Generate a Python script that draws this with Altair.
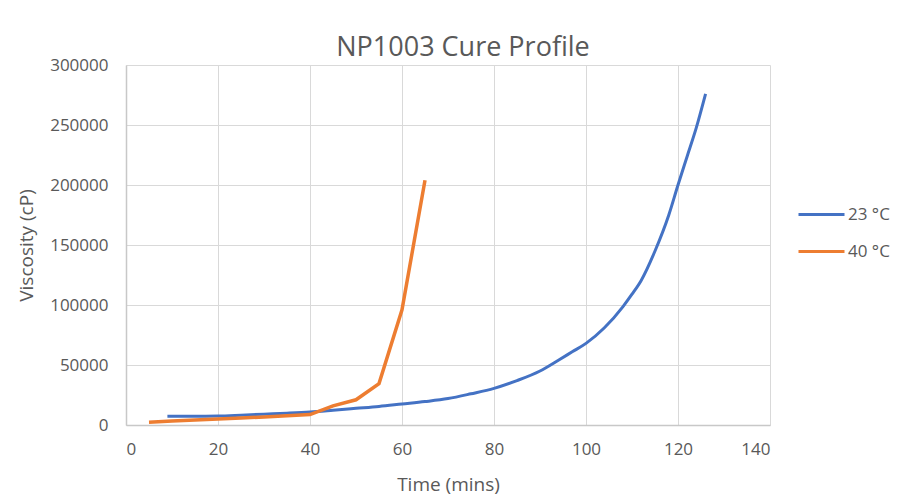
import altair as alt
import pandas as pd

# 23 °C series
t23 = [9, 15, 20, 25, 30, 35, 40, 45, 50, 55, 60, 65, 70, 75, 80, 85, 90, 94, 97,
       100, 104, 108, 110, 112, 115, 118, 120, 122, 124, 126]
v23 = [7200, 7300, 7500, 8200, 9000, 9800, 10800, 12300, 13900, 15500, 17500, 19500,
       22000, 26000, 30500, 37000, 45000, 54000, 61000, 68000, 81000, 98500, 109000,
       120500, 145000, 175000, 200000, 224000, 248000, 276000]

# 40 °C series
t40 = [5, 10, 15, 20, 25, 30, 35, 40, 45, 50, 55, 60, 65]
v40 = [2300, 3300, 4200, 5000, 5800, 6700, 7700, 8700, 16000, 21000, 34500, 96000, 204000]

series_names = ["23 °C", "40 °C"]
series_colors = ["#4472C4", "#ED7D31"]

df23 = pd.DataFrame({"t": t23, "v": v23, "s": series_names[0]})
df40 = pd.DataFrame({"t": t40, "v": v40, "s": series_names[1]})

x_ticks = [0, 20, 40, 60, 80, 100, 120, 140]
y_ticks = [0, 50000, 100000, 150000, 200000, 250000, 300000]

FONT = "Open Sans"
GRAY = "#595959"

xenc = alt.X("t:Q", scale=alt.Scale(domain=[0, 140], nice=False),
             axis=alt.Axis(values=x_ticks, title="Time (mins)", titleX=322, titleY=59,
                           titleBaseline="middle"))
yenc = alt.Y("v:Q", scale=alt.Scale(domain=[0, 300000], nice=False),
             axis=alt.Axis(values=y_ticks, title="Viscosity (cP)", titleX=-100, titleY=180,
                           titleAngle=-90, titleBaseline="middle", format="d"))
color = alt.Color("s:N", scale=alt.Scale(domain=series_names, range=series_colors),
                  legend=alt.Legend(title=None, orient="none", legendX=671, legendY=125,
                                    symbolType="stroke", symbolSize=2116,
                                    symbolStrokeWidth=3, labelFontSize=17,
                                    labelFont=FONT, labelColor=GRAY, labelOffset=2,
                                    rowPadding=4, padding=0))

blue = alt.Chart(df23).mark_line(strokeWidth=3, interpolate="monotone").encode(
    x=xenc, y=yenc, color=color)
orange = alt.Chart(df40).mark_line(strokeWidth=3.5).encode(
    x=xenc, y=yenc, color=color)

chart = alt.layer(blue, orange).properties(
    width=644, height=360,
    autosize=alt.AutoSizeParams(type="none"),
    padding={"left": 118, "top": 57, "right": 130, "bottom": 70},
    title=alt.TitleParams("NP1003 Cure Profile", font=FONT, fontSize=27,
                          fontWeight="normal", color=GRAY, anchor="middle",
                          dx=15, dy=37, offset=10, baseline="alphabetic"),
).configure_view(stroke=None).configure_axis(
    grid=True, gridColor="#D9D9D9", gridWidth=1,
    domainColor="#C8C8C8", domainWidth=1.5, ticks=False,
    labelFont=FONT, labelFontSize=17, labelColor=GRAY, labelPadding=18,
    titleFont=FONT, titleFontSize=19, titleColor=GRAY, titleFontWeight="normal",
).configure_axisX(labelPadding=16)

chart.save("out.html", embed_options={"renderer": "svg", "actions": False})
